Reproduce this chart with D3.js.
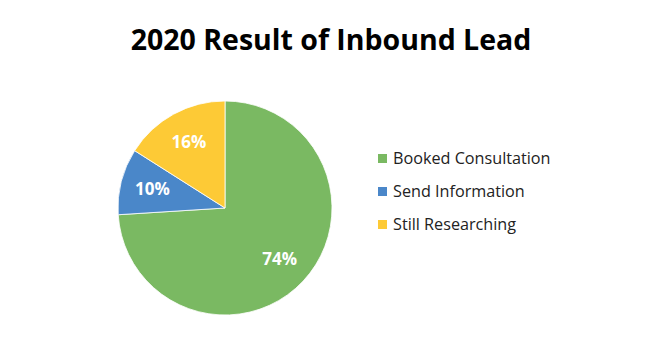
<!DOCTYPE html>
<html>
<head>
<meta charset="utf-8">
<script src="https://cdn.jsdelivr.net/npm/d3@7"></script>
<style>
  body { margin: 0; background: #fff; }
</style>
</head>
<body>
<div id="chart"></div>
<script>
// chart data
var categories = ["Booked Consultation", "Send Information", "Still Researching"];
var values = [74, 10, 16];
var colors = ["#7ab962", "#4a87c9", "#fdca36"];

var width = 668, height = 351;

var svg = d3.select("#chart").append("svg")
    .attr("width", width)
    .attr("height", height);

// title
svg.append("text")
    .attr("x", 331)
    .attr("y", 50)
    .attr("text-anchor", "middle")
    .style("font-family", "'Open Sans', sans-serif")
    .style("font-weight", 700)
    .style("font-size", "28.5px")
    .attr("fill", "#000")
    .text("2020 Result of Inbound Lead");

var radius = 107;
var g = svg.append("g")
    .attr("transform", "translate(225,208)");

var pie = d3.pie().sort(null).value(function(d) { return d; });
var arc = d3.arc().innerRadius(0).outerRadius(radius);
var labelArc = d3.arc().innerRadius(radius * 0.7).outerRadius(radius * 0.7);

var arcs = pie(values);

g.selectAll(".slice")
    .data(arcs)
  .enter().append("path")
    .attr("class", "slice")
    .attr("d", arc)
    .attr("fill", function(d, i) { return colors[i]; })
    .attr("stroke", "#fff")
    .attr("stroke-width", 0.8);

g.selectAll(".label")
    .data(arcs)
  .enter().append("text")
    .attr("class", "label")
    .attr("transform", function(d) { return "translate(" + labelArc.centroid(d) + ")"; })
    .attr("text-anchor", "middle")
    .attr("dy", "0.35em")
    .style("font-family", "'Open Sans', sans-serif")
    .style("font-weight", 700)
    .style("font-size", "17px")
    .attr("fill", "#fff")
    .text(function(d) { return d.data + "%"; });

// legend
var legend = svg.append("g")
    .attr("transform", "translate(378,158)");

var rows = legend.selectAll(".row")
    .data(categories)
  .enter().append("g")
    .attr("class", "row")
    .attr("transform", function(d, i) { return "translate(0," + (i * 33) + ")"; });

rows.append("rect")
    .attr("x", 0)
    .attr("y", -4)
    .attr("width", 9)
    .attr("height", 9)
    .attr("fill", function(d, i) { return colors[i]; });

rows.append("text")
    .attr("x", 15)
    .attr("y", 0)
    .attr("dy", "0.35em")
    .style("font-family", "'Open Sans', sans-serif")
    .style("font-size", "16.2px")
    .attr("fill", "#222")
    .text(function(d) { return d; });
</script>
</body>
</html>
